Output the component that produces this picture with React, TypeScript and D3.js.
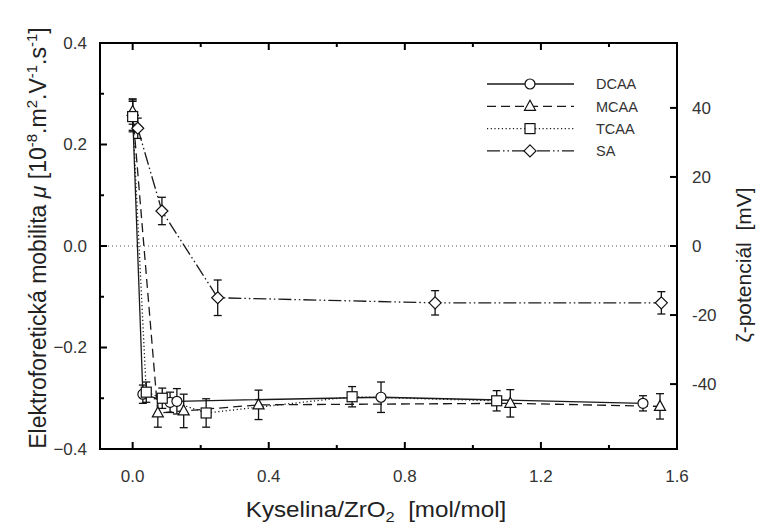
import React from 'react';
import * as d3 from 'd3';

// x = kyselina/ZrO2 [mol/mol], y = mobilita, err = chybová úsečka
const dcaaX = [0, 0.03, 0.11, 0.13, 0.73, 1.5];
const dcaaY = [0.258, -0.292, -0.308, -0.306, -0.298, -0.31];
const dcaaErr = [0.03, 0.018, 0.02, 0.025, 0.03, 0.015];

const mcaaX = [0, 0.074, 0.15, 0.37, 1.11, 1.55];
const mcaaY = [0.265, -0.329, -0.325, -0.313, -0.31, -0.316];
const mcaaErr = [0.025, 0.028, 0.033, 0.029, 0.027, 0.025];

const tcaaX = [0, 0.04, 0.087, 0.216, 0.645, 1.07];
const tcaaY = [0.255, -0.288, -0.3, -0.329, -0.297, -0.305];
const tcaaErr = [0.03, 0.02, 0.02, 0.028, 0.02, 0.02];

const saX = [0.015, 0.086, 0.25, 0.889, 1.554];
const saY = [0.232, 0.069, -0.102, -0.112, -0.112];
const saErr = [0.02, 0.027, 0.035, 0.024, 0.022];

const xMajor = [0, 0.4, 0.8, 1.2, 1.6];
const xMinor = [0.2, 0.6, 1.0, 1.4];
const yMajor = [0.4, 0.2, 0, -0.2, -0.4];
const yMinor = [0.3, 0.1, -0.1, -0.3];
const zetaTicks = [40, 20, 0, -20, -40];

const W = 766;
const H = 524;
const FONT = '"Liberation Sans", Arial, sans-serif';

const x = d3.scaleLinear().domain([-0.096, 1.6]).range([100, 677]);
const y = d3.scaleLinear().domain([-0.4, 0.4]).range([449, 43]);
const zeta = d3.scaleLinear().domain([-58.8, 58.8]).range([449, 43]);

type Series = {
  name: string;
  xs: number[];
  ys: number[];
  errs: number[];
  dash: string;
  marker: 'circle' | 'triangle' | 'square' | 'diamond';
};

const series: Series[] = [
  { name: 'DCAA', xs: dcaaX, ys: dcaaY, errs: dcaaErr, dash: 'none', marker: 'circle' },
  { name: 'MCAA', xs: mcaaX, ys: mcaaY, errs: mcaaErr, dash: '9,5', marker: 'triangle' },
  { name: 'TCAA', xs: tcaaX, ys: tcaaY, errs: tcaaErr, dash: '1.2,2.5', marker: 'square' },
  { name: 'SA', xs: saX, ys: saY, errs: saErr, dash: '13,3,1.5,3,1.5,3', marker: 'diamond' },
];

const Marker = ({ kind, cx, cy }: { kind: Series['marker']; cx: number; cy: number }) => {
  const common = { fill: '#fff', stroke: '#111', strokeWidth: 1.2 };
  if (kind === 'circle') return <circle cx={cx} cy={cy} r={5} {...common} />;
  if (kind === 'square') return <rect x={cx - 5} y={cy - 5} width={10} height={10} {...common} />;
  if (kind === 'triangle')
    return <path d={`M${cx},${cy - 6}L${cx + 5.5},${cy + 4}L${cx - 5.5},${cy + 4}Z`} {...common} />;
  return <path d={`M${cx},${cy - 6}L${cx + 6},${cy}L${cx},${cy + 6}L${cx - 6},${cy}Z`} {...common} />;
};

const App = () => {
  const line = d3.line<[number, number]>().x(d => x(d[0])).y(d => y(d[1]));

  return (
    <div style={{ position: 'absolute', left: 0, top: 0 }}>
      <svg width={W} height={H} style={{ display: 'block', background: '#fff' }} fontFamily={FONT}>
        {/* zero reference */}
        <line x1={x.range()[0]} x2={x.range()[1]} y1={y(0)} y2={y(0)} stroke="#555" strokeWidth={1} strokeDasharray="1,3" />

        {/* series lines */}
        {series.map(s => (
          <path
            key={s.name + '-line'}
            d={line(s.xs.map((v, i) => [v, s.ys[i]] as [number, number])) || ''}
            fill="none"
            stroke="#1a1a1a"
            strokeWidth={1.3}
            strokeDasharray={s.dash}
          />
        ))}

        {/* error bars */}
        {series.map(s =>
          s.xs.map((v, i) => {
            const cx = x(v);
            const y1 = y(s.ys[i] + s.errs[i]);
            const y2 = y(s.ys[i] - s.errs[i]);
            return (
              <g key={s.name + '-err' + i} stroke="#111" strokeWidth={1.3}>
                <line x1={cx} x2={cx} y1={y1} y2={y2} />
                <line x1={cx - 4} x2={cx + 4} y1={y1} y2={y1} />
                <line x1={cx - 4} x2={cx + 4} y1={y2} y2={y2} />
              </g>
            );
          })
        )}

        {/* markers */}
        {series.map(s =>
          s.xs.map((v, i) => <Marker key={s.name + '-m' + i} kind={s.marker} cx={x(v)} cy={y(s.ys[i])} />)
        )}

        {/* frame */}
        <rect x={100} y={43} width={577} height={406} fill="none" stroke="#000" strokeWidth={2} />

        {/* x ticks bottom + top */}
        {xMajor.map(t => (
          <g key={'xM' + t} stroke="#000" strokeWidth={2}>
            <line x1={x(t)} x2={x(t)} y1={449} y2={442} />
            <line x1={x(t)} x2={x(t)} y1={43} y2={50} />
          </g>
        ))}
        {xMinor.map(t => (
          <g key={'xm' + t} stroke="#000" strokeWidth={2}>
            <line x1={x(t)} x2={x(t)} y1={449} y2={445} />
            <line x1={x(t)} x2={x(t)} y1={43} y2={47} />
          </g>
        ))}
        {xMajor.map(t => (
          <text key={'xl' + t} x={x(t)} y={482} textAnchor="middle" fontSize={17} fill="#333">
            {d3.format('.1f')(t)}
          </text>
        ))}

        {/* left y axis */}
        {yMajor.map(t => (
          <line key={'yM' + t} x1={100} x2={107} y1={y(t)} y2={y(t)} stroke="#000" strokeWidth={2} />
        ))}
        {yMinor.map(t => (
          <line key={'ym' + t} x1={100} x2={104} y1={y(t)} y2={y(t)} stroke="#000" strokeWidth={2} />
        ))}
        {yMajor.map(t => (
          <text key={'yl' + t} x={87} y={y(t)} dy="0.35em" textAnchor="end" fontSize={17} fill="#333">
            {d3.format('.1f')(t)}
          </text>
        ))}

        {/* right zeta axis */}
        {zetaTicks.map(t => (
          <line key={'zt' + t} x1={677} x2={670} y1={zeta(t)} y2={zeta(t)} stroke="#000" strokeWidth={2} />
        ))}
        {zetaTicks.map(t => (
          <text key={'zl' + t} x={692} y={zeta(t)} dy="0.35em" textAnchor="start" fontSize={17} fill="#333">
            {t}
          </text>
        ))}

        {/* legend */}
        {series.map((s, i) => {
          const ly = 84 + i * 22.3;
          return (
            <g key={s.name + '-leg'}>
              <line x1={487} x2={574} y1={ly} y2={ly} stroke="#1a1a1a" strokeWidth={1.3} strokeDasharray={s.dash} />
              <Marker kind={s.marker} cx={530} cy={ly} />
              <text x={596} y={ly} dy="0.36em" fontSize={14.5} fill="#333">
                {s.name}
              </text>
            </g>
          );
        })}

        {/* axis titles */}
        <text transform="translate(376,517) scale(1.1,1)" textAnchor="middle" fontSize={22} fill="#222">
          Kyselina/ZrO<tspan fontSize={15} dy={5}>2</tspan>
          <tspan dy={-5}>{'\u00a0\u00a0[mol/mol]'}</tspan>
        </text>
        <text transform="translate(46,238) rotate(-90)" textAnchor="middle" fontSize={23} fill="#222">
          Elektroforetická mobilita <tspan fontStyle="italic">μ</tspan> [10
          <tspan fontSize={15} dy={-9}>-8</tspan>
          <tspan dy={9}>.m</tspan>
          <tspan fontSize={15} dy={-9}>2</tspan>
          <tspan dy={9}>.V</tspan>
          <tspan fontSize={15} dy={-9}>-1</tspan>
          <tspan dy={9}>.s</tspan>
          <tspan fontSize={15} dy={-9}>-1</tspan>
          <tspan dy={9}>]</tspan>
        </text>
        <text transform="translate(751,265) rotate(-90)" textAnchor="middle" fontSize={21} fill="#222">
          {'ζ-potenciál\u00a0\u00a0[mV]'}
        </text>
      </svg>
    </div>
  );
};

export default App;
